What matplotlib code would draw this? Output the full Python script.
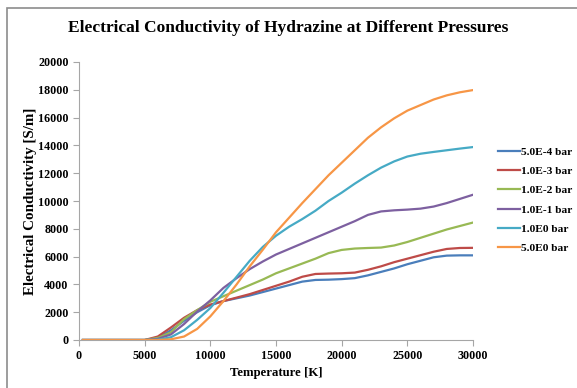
import matplotlib
matplotlib.use("Agg")
import matplotlib.pyplot as plt
from matplotlib.patches import Rectangle

# Temperature grid [K]
temperature = [300, 1000, 2000, 3000, 4000, 5000, 6000, 7000, 8000, 9000, 10000,
               11000, 12000, 13000, 14000, 15000, 16000, 17000, 18000, 19000, 20000,
               21000, 22000, 23000, 24000, 25000, 26000, 27000, 28000, 29000, 30000]

# Electrical conductivity [S/m]
p_5e_4 = [0, 0, 0, 0, 0, 0, 150, 700, 1380, 2000, 2500,
          2800, 3000, 3200, 3450, 3700, 3950, 4200, 4320, 4340, 4380,
          4450, 4650, 4900, 5150, 5450, 5700, 5950, 6070, 6090, 6090]
p_1e_3 = [0, 0, 0, 0, 0, 0, 250, 900, 1600, 2150, 2550,
          2800, 3050, 3300, 3600, 3900, 4200, 4550, 4750, 4780, 4800,
          4850, 5050, 5300, 5600, 5850, 6100, 6350, 6550, 6620, 6630]
p_1e_2 = [0, 0, 0, 0, 0, 0, 150, 550, 1500, 2150, 2750,
          3150, 3550, 3950, 4350, 4800, 5150, 5500, 5850, 6250, 6480,
          6580, 6620, 6650, 6800, 7050, 7350, 7650, 7950, 8200, 8450]
p_1e_1 = [0, 0, 0, 0, 0, 0, 80, 400, 1150, 2050, 2850,
          3750, 4450, 5100, 5650, 6150, 6550, 6950, 7350, 7750, 8150,
          8550, 9000, 9250, 9330, 9380, 9450, 9600, 9850, 10150, 10450]
p_1e0 = [0, 0, 0, 0, 0, 0, 20, 200, 700, 1450, 2300,
         3400, 4550, 5700, 6700, 7500, 8150, 8700, 9300, 10000, 10600,
         11250, 11850, 12400, 12850, 13200, 13400, 13530, 13650, 13770, 13880]
p_5e0 = [0, 0, 0, 0, 0, 0, 0, 50, 250, 800, 1700,
         2800, 4000, 5300, 6500, 7750, 8800, 9850, 10850, 11850, 12750,
         13650, 14550, 15300, 15950, 16500, 16900, 17300, 17600, 17820, 17980]

labels = ["5.0E-4 bar", "1.0E-3 bar", "1.0E-2 bar", "1.0E-1 bar", "1.0E0 bar", "5.0E0 bar"]
series = [p_5e_4, p_1e_3, p_1e_2, p_1e_1, p_1e0, p_5e0]
colors = ["#4A7EBB", "#BE4B48", "#98B954", "#7D60A0", "#46AAC5", "#F79646"]

plt.rcParams["font.family"] = ["Liberation Serif", "DejaVu Serif"]
plt.rcParams["font.weight"] = "bold"

fig = plt.figure(figsize=(5.77, 3.88), dpi=100)
ax = fig.add_axes([79 / 577, 1 - 340 / 388, (473 - 79) / 577, (340 - 62) / 388])

for vals, lab, col in zip(series, labels, colors):
    ax.plot(temperature, vals, color=col, lw=1.6, label=lab)

ax.set_xlim(0, 30000)
ax.set_ylim(0, 20000)
ax.set_xticks(range(0, 30001, 5000))
ax.set_yticks(range(0, 20001, 2000))
for s in ["top", "right"]:
    ax.spines[s].set_visible(False)
for s in ["left", "bottom"]:
    ax.spines[s].set_color("#a6a6a6")
ax.tick_params(colors="#a6a6a6", labelcolor="black", labelsize=8.7, length=4, direction="out")
for t in ax.get_xticklabels() + ax.get_yticklabels():
    t.set_fontweight("bold")

ax.set_xlabel("Temperature [K]", fontsize=9.2, fontweight="bold", labelpad=3)
ax.set_ylabel("Electrical Conductivity [S/m]", fontsize=10.8, fontweight="bold", labelpad=1)
fig.text(0.5, 1 - 28 / 388, "Electrical Conductivity of Hydrazine at Different Pressures",
         ha="center", va="center", fontsize=12.5, fontweight="bold")

fig.legend(loc="center left", bbox_to_anchor=(488 / 577, 1 - 200 / 388), frameon=False,
           handlelength=1.9, handletextpad=0.1, labelspacing=0.8,
           prop={"weight": "bold", "size": 8.2})

# outer frame of the chart area
fig.patches.append(Rectangle((7 / 577, -0.2), 1.2, 1.2 - 8 / 388,
                             transform=fig.transFigure, fill=False,
                             edgecolor="#8c8c8c", lw=1.2))

fig.savefig("out.png", dpi=100)
